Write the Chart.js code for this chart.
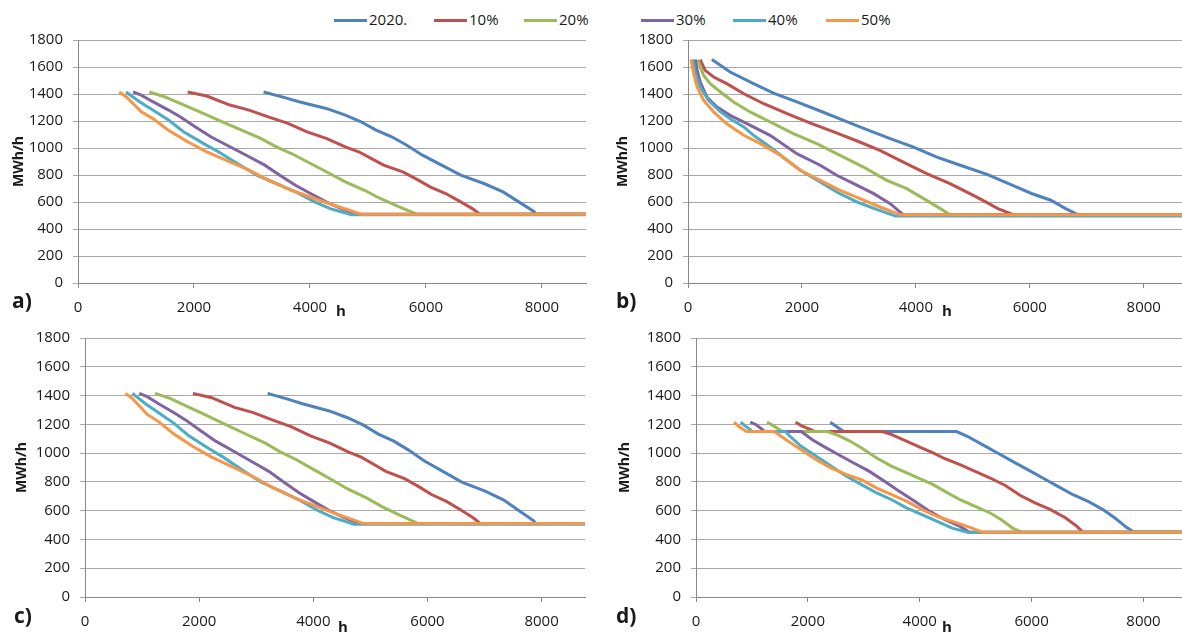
<!DOCTYPE html>
<html>
<head>
<meta charset="utf-8">
<script src="https://cdn.jsdelivr.net/npm/chart.js@4.4.0/dist/chart.umd.min.js"></script>
<style>
  html, body { margin: 0; padding: 0; width: 1182px; height: 634px; overflow: hidden; background: #fff; }
  body { font-family: 'Open Sans', sans-serif; color: #1a1a1a; position: relative; }
  canvas { position: absolute; }
  .tag  { position: absolute; font: bold 21px/21px 'Open Sans', sans-serif; }
  .hlab { position: absolute; font: bold 15px/15px 'Open Sans', sans-serif; }
  .leg  { position: absolute; top: 10px; height: 18px; font-size: 15px; line-height: 18px; white-space: nowrap; }
  .leg i { display: inline-block; width: 33px; height: 3px; vertical-align: middle; margin-right: 2px; }
</style>
</head>
<body>

<div id="legend"></div>

<canvas id="chartA" width="590" height="317" style="left:0;top:0"></canvas>
<canvas id="chartB" width="602" height="317" style="left:590px;top:0"></canvas>
<canvas id="chartC" width="590" height="317" style="left:0;top:317px"></canvas>
<canvas id="chartD" width="602" height="317" style="left:590px;top:317px"></canvas>

<div class="tag" style="left:12px;top:290px">a)</div>
<div class="tag" style="left:616px;top:290px">b)</div>
<div class="tag" style="left:14px;top:605px">c)</div>
<div class="tag" style="left:616px;top:605px">d)</div>

<div class="hlab" style="left:336px;top:303px">h</div>
<div class="hlab" style="left:942px;top:303px">h</div>
<div class="hlab" style="left:338px;top:619px">h</div>
<div class="hlab" style="left:942px;top:619px">h</div>

<script>
/* ==========================================
   DATA  (x = h, y = MWh/h)
   ========================================== */
const seriesNames  = ['2020.', '10%', '20%', '30%', '40%', '50%'];
const seriesColors = ['#4F81BD', '#C0504D', '#9BBB59', '#8064A2', '#4BACC6', '#F79646'];
const legendLeft   = [334, 434, 524, 641, 733, 826];

const xRange  = [0, 8760];
const xLabels = [0, 2000, 4000, 6000, 8000];
const yRange  = [0, 1800];
const yLabels = [0, 200, 400, 600, 800, 1000, 1200, 1400, 1600, 1800];

// panel a) (panel c) shows the same curves)
const A_2020 = [[3200,1415],[3550,1375],[3810,1343],[4280,1293],[4610,1244],[4880,1194],[5140,1132],[5410,1083],[5670,1021],[5940,947],[6270,873],[6600,799],[7000,737],[7330,675],[7600,601],[7860,530],[7900,510],[8760,510]];
const A_10   = [[1890,1415],[2220,1385],[2620,1318],[2950,1281],[3280,1231],[3620,1182],[3950,1120],[4280,1071],[4610,1009],[4840,972],[5110,910],[5270,873],[5600,823],[5870,762],[6070,712],[6340,663],[6600,601],[6800,551],[6930,510],[8760,510]];
const A_20   = [[1230,1415],[1490,1380],[1760,1330],[2090,1269],[2420,1207],[2750,1145],[3150,1071],[3420,1009],[3680,959],[4010,885],[4340,811],[4610,749],[4940,687],[5210,626],[5540,564],[5840,510],[8760,510]];
const A_30   = [[950,1415],[1090,1392],[1290,1343],[1560,1281],[1760,1231],[2020,1157],[2290,1083],[2620,1009],[2950,935],[3220,873],[3480,799],[3750,724],[4010,663],[4280,601],[4540,551],[4810,510],[8760,510]];
const A_40   = [[830,1415],[1060,1343],[1290,1281],[1560,1207],[1820,1120],[2160,1034],[2420,972],[2750,885],[3080,799],[3420,737],[3750,675],[4080,601],[4350,551],[4610,519],[4710,505],[8760,505]];
const A_50   = [[710,1415],[830,1380],[1090,1269],[1290,1219],[1560,1132],[1890,1046],[2220,972],[2620,898],[2950,836],[3280,762],[3680,687],[4080,626],[4410,576],[4680,539],[4880,510],[8760,510]];

// panel b)
const B_2020 = [[420,1655],[740,1563],[1150,1477],[1500,1407],[1910,1341],[2320,1274],[2730,1205],[3140,1136],[3550,1069],[3960,1007],[4370,933],[4780,872],[5250,805],[5700,724],[6030,663],[6370,613],[6630,551],[6850,505],[8760,505]];
const B_10   = [[215,1655],[300,1575],[450,1526],[680,1477],[980,1402],[1330,1328],[1740,1254],[2150,1185],[2560,1119],[2970,1052],[3370,983],[3780,896],[4190,810],[4600,736],[5010,649],[5250,595],[5440,551],[5720,505],[8760,505]];
const B_20   = [[175,1655],[215,1600],[275,1538],[390,1477],[570,1415],[800,1341],[1090,1267],[1440,1193],[1850,1106],[2260,1032],[2670,946],[3080,859],[3490,760],[3840,699],[4190,612],[4430,551],[4600,505],[8760,505]];
const B_30   = [[130,1655],[160,1575],[215,1489],[330,1378],[510,1304],[740,1242],[1035,1180],[1440,1094],[1910,958],[2320,872],[2610,798],[2910,736],[3260,662],[3550,588],[3780,505],[8760,505]];
const B_40   = [[88,1655],[130,1551],[215,1452],[360,1353],[570,1267],[740,1217],[980,1156],[1150,1094],[1440,1007],[1740,909],[1970,835],[2320,748],[2610,674],[2970,600],[3320,543],[3610,501],[3640,497],[8760,497]];
const B_50   = [[53,1655],[100,1551],[160,1452],[275,1353],[450,1267],[680,1180],[980,1094],[1270,1032],[1620,946],[1970,835],[2320,760],[2670,686],[3020,625],[3370,563],[3730,505],[8760,505]];

// panel d)
const D_2020 = [[2400,1215],[2640,1150],[4660,1150],[4850,1117],[5120,1059],[5390,1001],[5660,943],[5930,885],[6200,827],[6470,769],[6740,711],[7010,665],[7280,607],[7490,549],[7690,486],[7830,450],[8760,450]];
const D_10   = [[1780,1215],[1880,1191],[2080,1158],[2120,1150],[3330,1150],[3500,1128],[3770,1082],[4040,1035],[4240,1001],[4450,961],[4720,920],[4990,873],[5260,827],[5530,775],[5800,705],[6070,653],[6340,607],[6610,549],[6810,491],[6920,450],[8760,450]];
const D_20   = [[1270,1215],[1400,1186],[1540,1150],[2350,1150],[2550,1121],[2760,1082],[2960,1035],[3230,966],[3500,908],[3770,862],[4040,815],[4240,781],[4450,734],[4720,676],[4990,630],[5260,584],[5460,537],[5660,479],[5830,450],[8760,450]];
const D_30   = [[970,1215],[1070,1198],[1190,1163],[1230,1150],[1880,1150],[2080,1093],[2280,1047],[2550,989],[2820,931],[3100,873],[3370,804],[3640,734],[3910,665],[4180,595],[4450,537],[4720,491],[4890,450],[8760,450]];
const D_40   = [[800,1215],[870,1191],[970,1163],[1000,1150],[1600,1150],[1680,1117],[1880,1047],[2150,978],[2420,908],[2690,839],[2960,781],[3230,723],[3500,676],[3770,618],[4040,572],[4310,526],[4580,479],[4850,450],[8760,450]];
const D_50   = [[680,1215],[760,1186],[900,1150],[1400,1150],[1610,1093],[1880,1024],[2150,954],[2420,896],[2690,850],[2960,815],[3230,757],[3500,711],[3770,665],[4040,607],[4310,561],[4580,526],[4850,491],[5120,450],[8760,450]];

/* ==========================================
   LEGEND (shared, html)
   ========================================== */
const legendEl = document.getElementById('legend');
seriesNames.forEach((name, i) => {
  const d = document.createElement('div');
  d.className = 'leg';
  d.style.left = legendLeft[i] + 'px';
  d.innerHTML = `<i style="background:${seriesColors[i]}"></i>${name}`;
  legendEl.appendChild(d);
});

/* ==========================================
   CHARTS
   ========================================== */
const FONT = 'Open Sans';
const plain = v => String(v);   // no thousands separator

function makePanel(id, series, g) {
  const ctx = document.getElementById(id).getContext('2d');
  return new Chart(ctx, {
    type: 'line',
    data: {
      datasets: series.map((pts, i) => ({
        label: seriesNames[i],
        data: pts.map(([x, y]) => ({ x, y })),
        borderColor: seriesColors[i],
        backgroundColor: seriesColors[i],
        borderWidth: 3,
        pointRadius: 0,
        tension: 0,
        fill: false,
        order: series.length - 1 - i
      }))
    },
    options: {
      responsive: false,
      animation: false,
      events: [],
      layout: { padding: { left: 0, top: g.top, right: g.right, bottom: 0 } },
      plugins: { legend: { display: false }, tooltip: { enabled: false } },
      scales: {
        x: {
          type: 'linear',
          min: xRange[0], max: xRange[1],
          afterBuildTicks: s => { s.ticks = xLabels.map(v => ({ value: v })); },
          ticks: { maxRotation: 0, autoSkip: false, padding: 11, callback: plain,
                   color: '#1a1a1a', font: { family: FONT, size: 15 } },
          grid: { drawOnChartArea: false, drawTicks: true, tickLength: 5, color: '#888' },
          border: { color: '#888' },
          afterFit: s => { s.height = g.xh; }
        },
        y: {
          min: yRange[0], max: yRange[1],
          afterBuildTicks: s => { s.ticks = yLabels.map(v => ({ value: v })); },
          ticks: { padding: 10, autoSkip: false, callback: plain,
                   color: '#1a1a1a', font: { family: FONT, size: 15 } },
          grid: { color: '#a8a8a8', tickLength: 5 },
          border: { color: '#888' },
          title: { display: true, text: 'MWh/h', color: '#1a1a1a',
                   font: { family: FONT, size: 14, weight: 'bold' }, padding: { top: g.tp, bottom: 0 } },
          afterFit: s => { s.width = g.yw; }
        }
      }
    }
  });
}

makePanel('chartA', [A_2020, A_10, A_20, A_30, A_40, A_50], { yw: 78,  xh: 34, top: 40, right: 4, tp: 11 });
makePanel('chartB', [B_2020, B_10, B_20, B_30, B_40, B_50], { yw: 98,  xh: 34, top: 40, right: 5, tp: 25 });
makePanel('chartC', [A_2020, A_10, A_20, A_30, A_40, A_50], { yw: 85,  xh: 37, top: 21, right: 5, tp: 14 });
makePanel('chartD', [D_2020, D_10, D_20, D_30, D_40, D_50], { yw: 106, xh: 37, top: 21, right: 6, tp: 27 });
</script>
</body>
</html>
